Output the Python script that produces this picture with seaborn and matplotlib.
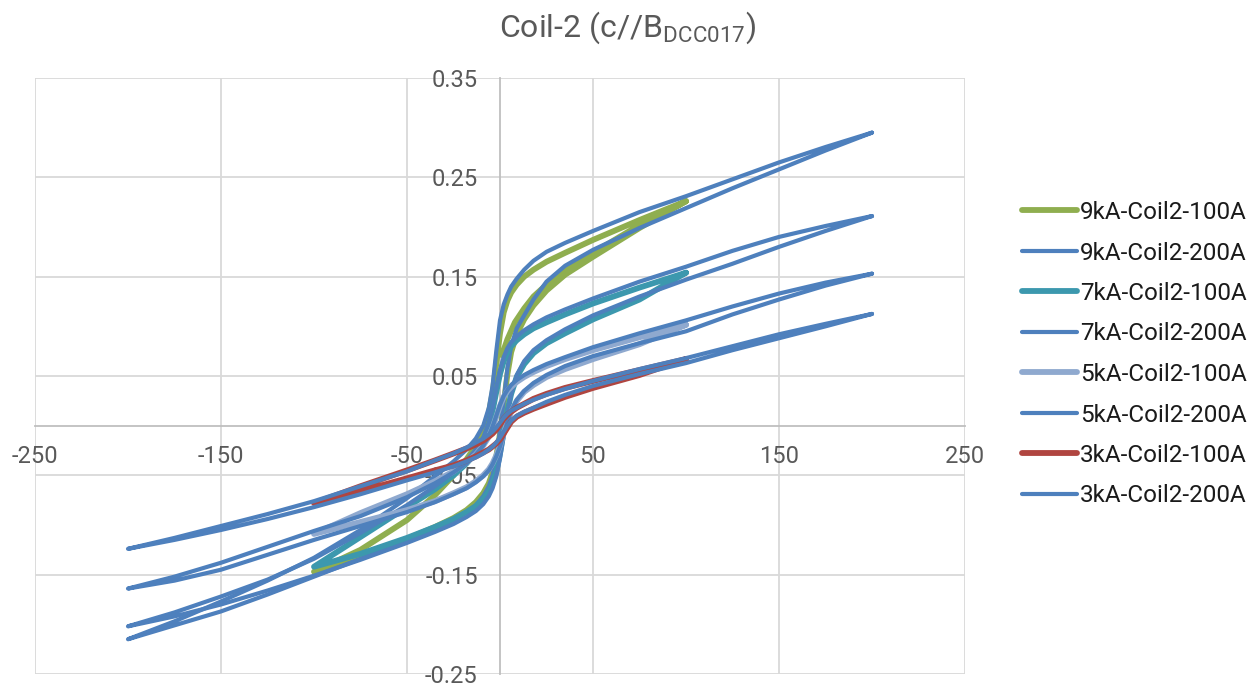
import numpy as np
import pandas as pd
import matplotlib
matplotlib.use("Agg")
import matplotlib.pyplot as plt
import seaborn as sns

# Field sweep grids (A): descending branch order; the ascending branch runs the reverse way
X_200 = [200, 175, 150, 125, 100, 75, 50, 35, 25, 18, 13, 9, 6, 4, 2, 0,
         -2, -4, -6, -9, -13, -18, -25, -35, -50, -75, -100, -125, -150, -175, -200]
X_100 = [100, 75, 50, 35, 25, 18, 13, 9, 6, 4, 2, 0,
         -2, -4, -6, -9, -13, -18, -25, -35, -50, -75, -100]

# 9 kA, 200 A sweep
y9_200_down = [0.295, 0.2805, 0.265, 0.248, 0.231, 0.215, 0.196, 0.184, 0.175, 0.166, 0.157, 0.148, 0.140, 0.132, 0.122, 0.106,
               0.075, 0.040, 0.018, 0.000, -0.013, -0.024, -0.036, -0.051, -0.073, -0.105, -0.133, -0.156, -0.177, -0.197, -0.215]
y9_200_up = [-0.215, -0.201, -0.187, -0.170, -0.152, -0.134, -0.116, -0.104, -0.095, -0.087, -0.080, -0.071, -0.061, -0.050, -0.033, -0.005,
             0.025, 0.058, 0.080, 0.098, 0.111, 0.127, 0.145, 0.161, 0.177, 0.199, 0.219, 0.239, 0.258, 0.277, 0.295]
# 7 kA, 200 A sweep
y7_200_down = [0.211, 0.201, 0.190, 0.176, 0.160, 0.145, 0.128, 0.117, 0.109, 0.102, 0.096, 0.090, 0.084, 0.078, 0.069, 0.056,
               0.038, 0.018, 0.003, -0.012, -0.024, -0.035, -0.047, -0.061, -0.080, -0.108, -0.134, -0.155, -0.172, -0.188, -0.202]
y7_200_up = [-0.202, -0.192, -0.180, -0.166, -0.151, -0.135, -0.118, -0.107, -0.099, -0.092, -0.086, -0.079, -0.071, -0.063, -0.051, -0.033,
             -0.010, 0.013, 0.032, 0.051, 0.065, 0.076, 0.086, 0.097, 0.111, 0.130, 0.147, 0.163, 0.180, 0.196, 0.211]
# 5 kA, 200 A sweep
y5_200_down = [0.153, 0.144, 0.133, 0.120, 0.106, 0.093, 0.079, 0.069, 0.062, 0.056, 0.051, 0.046, 0.041, 0.036, 0.030, 0.021,
               0.010, -0.001, -0.010, -0.020, -0.029, -0.038, -0.047, -0.058, -0.072, -0.091, -0.106, -0.122, -0.138, -0.152, -0.164]
y5_200_up = [-0.164, -0.156, -0.145, -0.130, -0.115, -0.101, -0.087, -0.077, -0.069, -0.063, -0.057, -0.051, -0.045, -0.039, -0.031, -0.021,
             -0.009, 0.004, 0.015, 0.026, 0.035, 0.043, 0.051, 0.060, 0.070, 0.083, 0.095, 0.112, 0.127, 0.141, 0.153]
# 3 kA, 200 A sweep
y3_200_down = [0.1125, 0.1025, 0.092, 0.080, 0.068, 0.057, 0.045, 0.037, 0.031, 0.026, 0.022, 0.018, 0.015, 0.012, 0.008, 0.003,
               -0.002, -0.006, -0.009, -0.013, -0.017, -0.022, -0.028, -0.035, -0.046, -0.061, -0.076, -0.089, -0.101, -0.113, -0.124]
y3_200_up = [-0.124, -0.115, -0.105, -0.094, -0.082, -0.069, -0.055, -0.047, -0.041, -0.036, -0.032, -0.028, -0.024, -0.021, -0.017, -0.012,
             -0.006, 0.000, 0.005, 0.010, 0.014, 0.018, 0.024, 0.031, 0.040, 0.052, 0.063, 0.076, 0.088, 0.100, 0.1125]

# 9 kA, 100 A sweep (starts from the remanent state near zero field)
x9_100_start = [1, 4, 8, 13, 18, 25, 35, 50, 75]
y9_100_start = [0.071, 0.087, 0.104, 0.118, 0.130, 0.142, 0.156, 0.174, 0.202]
y9_100_down = [0.226, 0.207, 0.187, 0.174, 0.165, 0.157, 0.150, 0.142, 0.134, 0.126, 0.114, 0.093,
               0.062, 0.033, 0.013, -0.005, -0.020, -0.034, -0.050, -0.070, -0.095, -0.125, -0.147]
y9_100_up = [-0.147, -0.133, -0.114, -0.102, -0.093, -0.085, -0.077, -0.068, -0.058, -0.047, -0.031, -0.008,
             0.022, 0.052, 0.074, 0.092, 0.107, 0.121, 0.136, 0.152, 0.170, 0.199, 0.226]
# 7 kA, 100 A sweep
y7_100_down = [0.154, 0.139, 0.123, 0.112, 0.104, 0.098, 0.092, 0.086, 0.080, 0.074, 0.065, 0.052,
               0.034, 0.015, 0.000, -0.015, -0.027, -0.038, -0.050, -0.064, -0.082, -0.112, -0.142]
y7_100_up = [-0.142, -0.129, -0.113, -0.102, -0.094, -0.087, -0.081, -0.074, -0.066, -0.058, -0.046, -0.028,
             -0.006, 0.015, 0.032, 0.049, 0.062, 0.073, 0.083, 0.093, 0.107, 0.127, 0.154]
# 5 kA, 100 A sweep
y5_100_down = [0.1015, 0.089, 0.076, 0.067, 0.060, 0.054, 0.049, 0.044, 0.039, 0.035, 0.029, 0.020,
               0.009, -0.002, -0.011, -0.020, -0.029, -0.037, -0.046, -0.056, -0.069, -0.088, -0.109]
y5_100_up = [-0.109, -0.097, -0.085, -0.076, -0.068, -0.062, -0.056, -0.050, -0.044, -0.038, -0.030, -0.020,
             -0.008, 0.004, 0.014, 0.025, 0.034, 0.041, 0.049, 0.057, 0.067, 0.082, 0.1015]
# 3 kA, 100 A sweep
y3_100_down = [0.067, 0.056, 0.045, 0.038, 0.032, 0.027, 0.022, 0.018, 0.014, 0.011, 0.007, 0.001,
               -0.004, -0.008, -0.011, -0.015, -0.019, -0.023, -0.028, -0.035, -0.045, -0.061, -0.078]
y3_100_up = [-0.078, -0.066, -0.053, -0.045, -0.040, -0.035, -0.031, -0.027, -0.024, -0.021, -0.018, -0.014,
             -0.008, -0.002, 0.004, 0.009, 0.013, 0.017, 0.022, 0.029, 0.038, 0.051, 0.067]

labels = ["9kA-Coil2-100A", "9kA-Coil2-200A", "7kA-Coil2-100A", "7kA-Coil2-200A",
          "5kA-Coil2-100A", "5kA-Coil2-200A", "3kA-Coil2-100A", "3kA-Coil2-200A"]
colors = ["#8FAE4F", "#4E80BD", "#3C98AE", "#4E80BD",
          "#8FA9CF", "#4E80BD", "#B04540", "#4E80BD"]
widths = [4.2, 3.0, 4.2, 3.0, 4.2, 3.0, 4.2, 3.0]

xticks = [-250, -150, -50, 50, 150, 250]
yticks = [-0.25, -0.15, -0.05, 0.05, 0.15, 0.25, 0.35]


def loop_frame(xs, down, up, start_x=None, start_y=None):
    """One measurement path: optional start, descending branch, ascending branch."""
    assert len(down) == len(xs) and len(up) == len(xs)
    px, py = [], []
    if start_x is not None:
        px += list(start_x)
        py += list(start_y)
    px += list(xs) + list(xs[::-1])
    py += list(down) + list(up)
    return pd.DataFrame({"H": px, "V": py})


frames = [
    loop_frame(X_100, y9_100_down, y9_100_up, x9_100_start, y9_100_start),
    loop_frame(X_200, y9_200_down, y9_200_up),
    loop_frame(X_100, y7_100_down, y7_100_up),
    loop_frame(X_200, y7_200_down, y7_200_up),
    loop_frame(X_100, y5_100_down, y5_100_up),
    loop_frame(X_200, y5_200_down, y5_200_up),
    loop_frame(X_100, y3_100_down, y3_100_up),
    loop_frame(X_200, y3_200_down, y3_200_up),
]

sns.set_theme(style="white")
plt.rcParams["font.family"] = ["Roboto", "DejaVu Sans"]
plt.rcParams["mathtext.fontset"] = "custom"
plt.rcParams["mathtext.rm"] = "Roboto"
plt.rcParams["axes.unicode_minus"] = False

fig = plt.figure(figsize=(12.6, 6.85), dpi=100)
ax = fig.add_axes([35 / 1260, 1 - 674 / 685, 930 / 1260, 596 / 685])

for df, lab, col, lw in zip(frames, labels, colors, widths):
    sns.lineplot(data=df, x="H", y="V", sort=False, estimator=None, ax=ax,
                 color=col, linewidth=lw, label=lab,
                 solid_capstyle="round", solid_joinstyle="round")

ax.set_xlim(-250, 250)
ax.set_ylim(-0.25, 0.35)
ax.set_xticks(xticks)
ax.set_yticks(yticks)
ax.set_xticklabels([f"{v:d}" for v in xticks])
ax.set_yticklabels([f"{v:.2f}" for v in yticks])
ax.set_xlabel("")
ax.set_ylabel("")

ax.grid(True, color="#d9d9d9", linewidth=1.3)
for gl in ax.get_xgridlines() + ax.get_ygridlines():
    gl.set_clip_on(False)
ax.set_axisbelow(True)

for side in ("top", "right"):
    ax.spines[side].set_visible(False)
ax.spines["left"].set_position(("data", 0))
ax.spines["bottom"].set_position(("data", 0))
for side in ("left", "bottom"):
    ax.spines[side].set_color("#bfbfbf")
    ax.spines[side].set_linewidth(1.3)
    ax.spines[side].set_zorder(1.5)

ax.tick_params(axis="both", length=0, labelsize=17, labelcolor="#595959")
ax.tick_params(axis="y", pad=16)
ax.tick_params(axis="x", pad=14)

handles, labs = ax.get_legend_handles_labels()
leg = ax.legend(handles, labs, loc="upper left",
                bbox_to_anchor=(1022 / 1260, 1 - 201 / 685), bbox_transform=fig.transFigure,
                frameon=False, fontsize=17.5, handlelength=2.25, handletextpad=0.15,
                labelspacing=0.72, borderpad=0, borderaxespad=0)
for t in leg.get_texts():
    t.set_color("#1a1a1a")

fig.text(628 / 1260, 1 - 37 / 685, r"Coil-2 (c//B$_{\mathrm{DCC017}}$)",
         ha="center", va="baseline", fontsize=23, color="#595959")

fig.savefig("out.png", dpi=100, facecolor="white")
